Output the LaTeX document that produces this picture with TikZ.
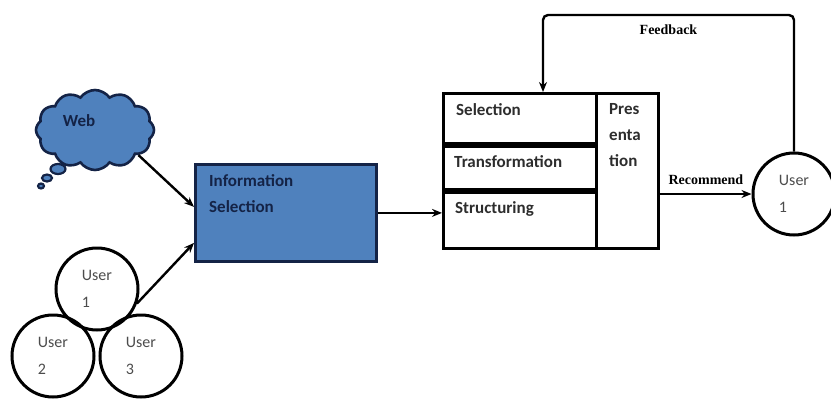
\documentclass[tikz,border=0pt]{standalone}
\usepackage{fontspec}
\setmainfont{Carlito}
\newfontfamily\labelfont{Liberation Serif}
\usetikzlibrary{arrows.meta,shapes.symbols,shapes.geometric,positioning,calc}
\definecolor{boxblue}{RGB}{79,129,189}
\definecolor{navy}{RGB}{20,35,70}
\definecolor{inkgray}{RGB}{45,45,45}
\tikzset{
    flow/.style={-{Stealth[length=10pt, width=8pt]}, line width=2.4pt, black},
    user/.style={draw, circle, line width=3pt, minimum size=82pt, inner sep=0pt, align=left, text=inkgray!85, font=\fontsize{16}{27}\selectfont},
    cell/.style={draw, line width=3.4pt, anchor=north west, inner sep=0pt},
    celltext/.style={anchor=north west, inner sep=0pt, align=left, text=inkgray, font=\fontsize{17}{26}\selectfont\bfseries},
    bubble/.style={draw=navy, fill=boxblue, ellipse, line width=2.2pt, inner sep=0pt},
    cue/.style={inner sep=0pt, font=\labelfont\bfseries\fontsize{14}{14}\selectfont}
}
\begin{document}
\begin{tikzpicture}[x=1pt, y=-1pt]
    \useasboundingbox (0,0) rectangle (831,402);
    % sources
    \node[draw=navy, fill=boxblue, line width=2.6pt, cloud, cloud puffs=12, cloud puff arc=110, aspect=1.5, minimum width=118pt, minimum height=80pt, inner sep=0pt] (web) at (95,130) {};
    \node[celltext, anchor=center, text=navy] (webtext) at (79,121) {Web};
    \node[bubble, minimum width=15pt, minimum height=10pt] (tail1) at (58,169) {};
    \node[bubble, minimum width=10pt, minimum height=7pt] (tail2) at (47,178) {};
    \node[bubble, minimum width=6pt, minimum height=5pt] (tail3) at (41,186) {};
    \node[user] (u1) at (97,289) {User\\1};
    \node[user] (u2) at (53,356) {User\\2};
    \node[user] (u3) at (141,356) {User\\3};
    % information selection
    \node[draw=navy, fill=boxblue, line width=2.8pt, minimum width=181pt, minimum height=97pt, anchor=north west, inner sep=0pt] (info) at (194,163) {};
    \node[celltext, text=navy, below right=11pt and 15pt of info.north west] (infotext) {Information\\Selection};
    % processing block
    \node[cell, minimum width=153pt, minimum height=50pt] (sel) at (442,92) {};
    \node[cell, minimum width=153pt, minimum height=46pt] (trans) at (442,142) {};
    \node[cell, minimum width=153pt, minimum height=59pt] (struc) at (442,188) {};
    \node[cell, minimum width=62pt, minimum height=155pt] (pres) at (595,92) {};
    \draw[line width=5pt] (sel.south west) -- (sel.south east);
    \draw[line width=5pt] (trans.south west) -- (trans.south east);
    \node[celltext, below right=11pt and 14pt of sel.north west] (seltext) {Selection};
    \node[celltext, below right=13pt and 12pt of trans.north west] (transtext) {Transformation};
    \node[celltext, below right=13pt and 13pt of struc.north west] (structext) {Structuring};
    \node[celltext, below right=11pt and 14pt of pres.north west] (prestext) {Pres\\enta\\tion};
    \node[user] (ur) at (794,194) {User\\1};
    % connectors
    \draw[flow] (web.-30) -- ([yshift=6pt]info.west);
    \draw[flow] (u1.-20) -- ([yshift=-30pt]info.west);
    \draw[flow] (info.east) -- (info.east -| struc.west);
    \draw[flow] (pres.east |- ur.west) -- (ur.west) node[cue, midway, above=8pt] {Recommend};
    \coordinate (fb) at (543,15);
    \draw[flow, rounded corners=5pt] (ur.north) |- (fb) node[cue, pos=0.75, below=9pt] {Feedback} -- (fb |- sel.north);
\end{tikzpicture}
\end{document}
